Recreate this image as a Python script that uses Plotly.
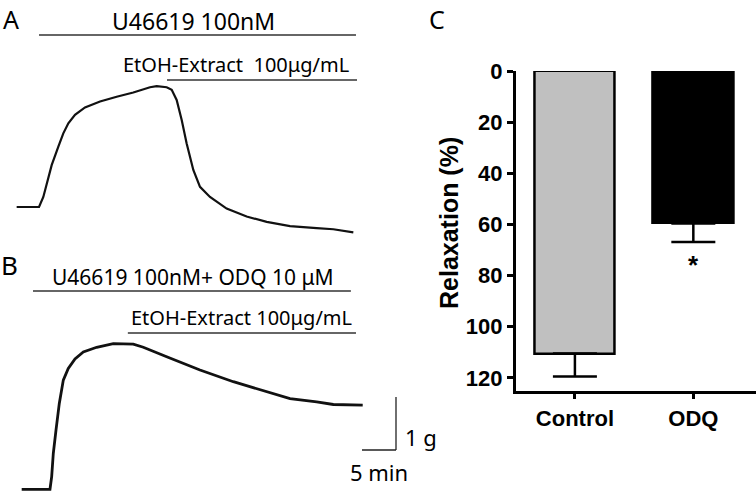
import plotly.graph_objects as go

# ---------------- data ----------------
# Panel A trace (time in min, tension in g relative to baseline)
a_time = [2.45, 5.74, 6.37, 7.60, 8.58, 9.31, 10.05, 11.03, 12.50, 14.71, 17.16, 19.60,
          22.06, 23.04, 24.51, 25.25, 25.98, 26.72, 27.45, 28.43, 29.41, 30.88, 33.33,
          36.27, 39.22, 42.65, 46.57, 49.02, 51.96]
a_tension = [0.00, 0.00, 0.19, 0.79, 1.14, 1.39, 1.58, 1.74, 1.88, 1.99, 2.08, 2.16,
             2.26, 2.28, 2.26, 2.21, 2.02, 1.64, 1.20, 0.70, 0.38, 0.19, -0.03,
             -0.18, -0.28, -0.36, -0.40, -0.42, -0.48]

# Panel B trace
b_time = [3.19, 7.35, 7.60, 7.84, 8.24, 8.72, 9.31, 10.04, 11.03, 12.25, 14.22, 16.66,
          19.60, 21.07, 24.51, 29.41, 34.31, 39.22, 42.65, 46.57, 49.02, 53.34]
b_tension = [0.00, 0.00, 0.24, 0.68, 1.12, 1.62, 2.06, 2.28, 2.46, 2.59, 2.68, 2.75,
             2.74, 2.68, 2.50, 2.25, 2.03, 1.84, 1.71, 1.65, 1.60, 1.59]

# drug application periods (min)
a_u46619 = [5.74, 52.35]
a_extract = [24.56, 52.50]
b_u46619_odq = [4.85, 51.60]
b_extract = [18.80, 52.35]

# scale bar
scale_time_min = 5
scale_tension_g = 1

# Panel C bar chart
categories = ["Control", "ODQ"]
relaxation = [110.5, 59.6]
sem = [8.9, 7.3]
bar_colors = ["#c0c0c0", "#000000"]
c_ticks = [0, 20, 40, 60, 80, 100, 120]

# ---------------- layout helpers ----------------
W, H = 756, 494
def px(x):
    return x / W
def py(y):
    return 1 - y / H

PX_PER_MIN = 6.8
PX_PER_G = 53.0

fig = go.Figure()

fig.add_trace(go.Scatter(x=a_time, y=a_tension, mode="lines",
                         line=dict(color="#111111", width=2.2),
                         xaxis="x", yaxis="y", showlegend=False, hoverinfo="skip"))
fig.add_trace(go.Scatter(x=b_time, y=b_tension, mode="lines",
                         line=dict(color="#111111", width=2.8),
                         xaxis="x2", yaxis="y2", showlegend=False, hoverinfo="skip"))

fig.add_trace(go.Bar(x=categories, y=relaxation, width=0.68,
                     marker=dict(color=bar_colors, line=dict(color="black", width=2.5)),
                     error_y=dict(type="data", symmetric=False, array=sem,
                                  arrayminus=[0, 0], color="black", thickness=2.5, width=22),
                     xaxis="x3", yaxis="y3", showlegend=False))

x_dom = [0, px(420)]
x_rng = [0, 420 / PX_PER_MIN]

a_base_px = 207
b_base_px = 489.3
a_top, a_bot = 40, 250
b_top, b_bot = 284, 494

hidden = dict(visible=False, fixedrange=True)

c_top_px, c_bot_px = 71, 390.7
c_font = dict(family="Liberation Sans, Arial", size=22, color="black", weight="bold")

fig.update_layout(
    width=W, height=H, autosize=False, margin=dict(l=0, r=0, t=0, b=0, pad=0),
    paper_bgcolor="white", plot_bgcolor="rgba(0,0,0,0)",
    xaxis=dict(domain=x_dom, range=x_rng, anchor="y", **hidden),
    yaxis=dict(domain=[py(a_bot), py(a_top)],
               range=[(a_base_px - a_bot) / PX_PER_G, (a_base_px - a_top) / PX_PER_G],
               anchor="x", **hidden),
    xaxis2=dict(domain=x_dom, range=x_rng, anchor="y2", **hidden),
    yaxis2=dict(domain=[py(b_bot), py(b_top)],
                range=[(b_base_px - b_bot) / PX_PER_G, (b_base_px - b_top) / PX_PER_G],
                anchor="x2", **hidden),
    xaxis3=dict(domain=[px(515.7), px(755.5)], range=[-0.5, 1.525], anchor="y3",
                showline=True, linecolor="black", linewidth=2.5,
                ticks="outside", ticklen=6, tickwidth=2.5, tickcolor="black",
                showgrid=False, zeroline=False, tickfont=c_font, fixedrange=True,
                automargin=False),
    yaxis3=dict(domain=[py(c_bot_px), py(c_top_px)], range=[125, 0], anchor="x3",
                showline=True, linecolor="black", linewidth=2.5,
                ticks="outside", ticklen=6, tickwidth=2.5, tickcolor="black",
                tickvals=c_ticks, showgrid=False, zeroline=False,
                tickfont=c_font, fixedrange=True, automargin=False),
    bargap=0,
)

# drug application lines
app_line = dict(color="#333333", width=1.3)
for (x0, x1), xr, ypx in [(a_u46619, "x", 35), (a_extract, "x", 80),
                          (b_u46619_odq, "x2", 291), (b_extract, "x2", 333)]:
    fig.add_shape(type="line", xref=xr, yref="paper", x0=x0, x1=x1,
                  y0=py(ypx), y1=py(ypx), line=app_line)

# scale bar (in panel B data units)
sb_x1 = 396 / PX_PER_MIN
sb_y0 = (b_base_px - 450) / PX_PER_G
sb_line = dict(color="#222222", width=1.3)
fig.add_shape(type="line", xref="x2", yref="y2", x0=sb_x1 - scale_time_min, x1=sb_x1,
              y0=sb_y0, y1=sb_y0, line=sb_line)
fig.add_shape(type="line", xref="x2", yref="y2", x0=sb_x1, x1=sb_x1,
              y0=sb_y0, y1=sb_y0 + scale_tension_g, line=sb_line)

txt_font = "Noto Sans, Open Sans, sans-serif"
def label(text, x, y, size, family=txt_font, angle=0, weight="normal", yanchor="middle"):
    fig.add_annotation(text=text, xref="paper", yref="paper", x=px(x), y=py(y),
                       xanchor="center", yanchor=yanchor, showarrow=False,
                       textangle=angle,
                       font=dict(family=family, size=size, color="black", weight=weight))

label("A", 11, 0, 25, yanchor="top")
label("B", 9, 265, 26)
label("C", 437, 0, 25, yanchor="top")
label("U46619 100nM", 193, 21, 23)
label("EtOH-Extract  100μg/mL", 236, 64, 20)
label("U46619 100nM+ ODQ 10 μM", 193, 277, 21)
label("EtOH-Extract 100μg/mL", 241, 317, 20)
label(f"{scale_tension_g} g", 421, 437, 22)
label(f"{scale_time_min} min", 379, 472, 22)
label("Relaxation (%)", 449, 223, 25, family="Liberation Sans, Arial", angle=-90, weight="bold")

fig.add_annotation(text="*", xref="x3", yref="y3", x="ODQ", y=72.6, yshift=-8,
                   showarrow=False,
                   font=dict(family="Liberation Sans, Arial", size=26, color="black", weight="bold"))

fig.write_html("out.html", config={"responsive": False, "displayModeBar": False},
               post_script="document.body.style.margin='0';document.body.style.overflow='hidden';")
